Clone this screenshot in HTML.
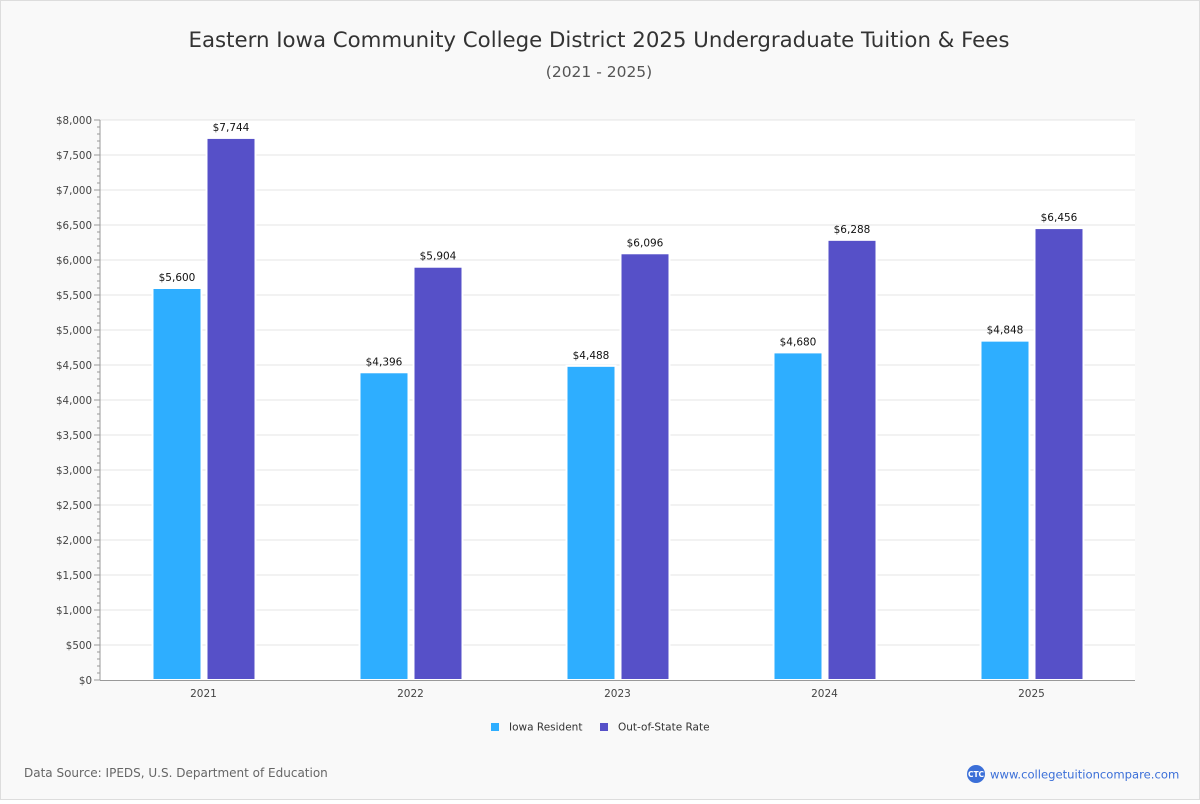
<!DOCTYPE html>
<html><head><meta charset="utf-8"><style>
body{margin:0;background:#fff;font-family:"Liberation Sans","DejaVu Sans",sans-serif}
#wrap{position:relative;width:1198px;height:798px;border:1px solid #ddd;background:#f9f9f9}
</style></head><body>
<div id="wrap">
<svg id="chart" width="1198" height="798" xmlns="http://www.w3.org/2000/svg" font-family="DejaVu Sans, Liberation Sans, sans-serif">
<text x="598" y="46" text-anchor="middle" font-size="21.3" fill="#333">Eastern Iowa Community College District 2025 Undergraduate Tuition &amp; Fees</text>
<text x="598" y="76" text-anchor="middle" font-size="15.5" fill="#555">(2021 - 2025)</text>
<rect x="99" y="119" width="1035" height="560" fill="#fff"/>
<g id="grid"></g><g id="bars"></g><g id="axes"></g>
<g>
<rect x="490" y="722" width="8" height="8" fill="#2eaeff"/>
<text x="508" y="729.5" font-size="10.5" fill="#333">Iowa Resident</text>
<rect x="599" y="722" width="8" height="8" fill="#5650c8"/>
<text x="617" y="729.5" font-size="10.5" fill="#333">Out-of-State Rate</text>
</g>
<text x="23" y="776" font-size="12" fill="#666">Data Source: IPEDS, U.S. Department of Education</text>
<circle cx="975" cy="773" r="9" fill="#3b6fd8"/>
<text x="975" y="776" text-anchor="middle" font-size="7.5" fill="#fff" font-weight="bold">CTC</text>
<text x="989" y="777.5" font-size="11.6" fill="#3b6fd8">www.collegetuitioncompare.com</text>
</svg></div>
<script>
const categories=["2021","2022","2023","2024","2025"];
const residentValues=[5600,4396,4488,4680,4848];
const outOfStateValues=[7744,5904,6096,6288,6456];
const yTicks=[0,500,1000,1500,2000,2500,3000,3500,4000,4500,5000,5500,6000,6500,7000,7500,8000];
const NS="http://www.w3.org/2000/svg";
const L=99,R=1134,T=119,B=679,YMAX=8000;
const y=v=>B-(v/YMAX)*(B-T);
const band=(R-L)/categories.length;
const xc=i=>L+band*(i+0.5);
const fmt=v=>"$"+v.toLocaleString("en-US");
function mk(tag,at,parent){const e=document.createElementNS(NS,tag);for(const k in at)e.setAttribute(k,at[k]);parent.appendChild(e);return e;}
const grid=document.getElementById("grid"),bars=document.getElementById("bars"),axes=document.getElementById("axes");
yTicks.forEach(t=>{
  if(t>0){const g=mk("line",{x1:L,x2:R,y1:y(t),y2:y(t),stroke:"#e4e4e4"},grid);
  
  }
  const tx=mk("text",{x:L-8,y:y(t)+4,"text-anchor":"end","font-size":"10.3",fill:"#444"},axes);
  tx.textContent=fmt(t);
  
  
});
for(let v=0;v<=YMAX;v+=100){const w=(v%500===0)?6:3;
  const tk=mk("line",{x1:L-w,x2:L,y1:y(v),y2:y(v),stroke:"#999"},axes);
  
  }
const ya=mk("line",{x1:L,x2:L,y1:T,y2:B,stroke:"#999"},axes);


const xa=mk("line",{x1:L,x2:R,y1:B+0.5,y2:B+0.5,stroke:"#999"},axes);


categories.forEach((c,i)=>{
  const cx=xc(i);
  [[residentValues[i],cx-51,"#2eaeff","bar-resident-"+c],[outOfStateValues[i],cx+3,"#5650c8","bar-out-of-state-"+c]].forEach(([v,x0,col,nm])=>{
    const r=mk("rect",{x:x0,y:y(v),width:49,height:B-y(v),fill:col,stroke:"#fff","stroke-width":"2"},bars);
    
    
    const lb=mk("text",{x:x0+24.5,y:y(v)-7,"text-anchor":"middle","font-size":"10.5",fill:"#111"},bars);
    lb.textContent=fmt(v);
    
    
  });
  const xl=mk("text",{x:cx,y:B+17,"text-anchor":"middle","font-size":"10.5",fill:"#444"},axes);
  xl.textContent=c;
  
  
});
</script>
</body></html>
